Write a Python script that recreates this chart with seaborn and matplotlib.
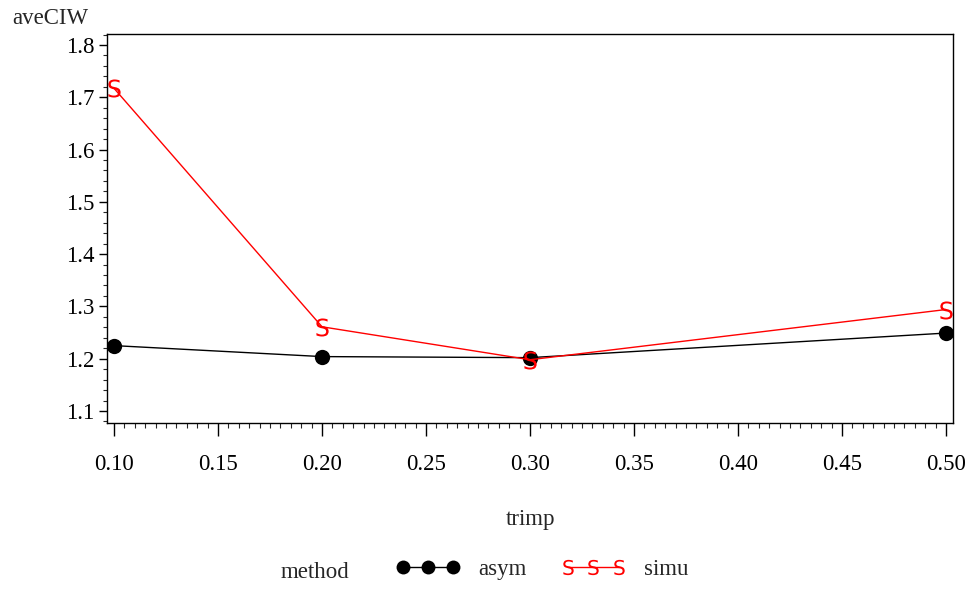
import matplotlib
matplotlib.use("Agg")
import matplotlib.pyplot as plt
from matplotlib.lines import Line2D
from matplotlib.ticker import MultipleLocator, FormatStrFormatter
import seaborn as sns
import pandas as pd

trimp = [0.10, 0.20, 0.30, 0.50]
asym = [1.225, 1.204, 1.202, 1.249]
simu = [1.717, 1.261, 1.198, 1.294]
methods = ["asym", "simu"]

df = pd.DataFrame({
    "trimp": trimp * 2,
    "aveCIW": asym + simu,
    "method": ["asym"] * len(trimp) + ["simu"] * len(trimp),
})

sns.set_theme(style="ticks")
plt.rcParams["font.family"] = ["Liberation Serif", "DejaVu Serif"]
plt.rcParams["mathtext.fontset"] = "custom"
plt.rcParams["mathtext.rm"] = "DejaVu Sans"

FS = 16.5
fig = plt.figure(figsize=(9.74, 5.91), dpi=100)
ax = fig.add_axes([107/974, 1-423/591, (953-107)/974, (423-34)/591])

palette = {"asym": "black", "simu": "red"}
markers = {"asym": "o", "simu": r"$\mathrm{S}$"}
sns.lineplot(data=df, x="trimp", y="aveCIW", hue="method", style="method",
             palette=palette, markers=markers, dashes=False, linewidth=1,
             markersize=11, markeredgewidth=0, ax=ax, legend=False)
for ln in ax.lines:
    if ln.get_color() == "red":
        ln.set_markersize(13)
        ln.set_markeredgewidth(0)

ax.set_xlim(0.0966, 0.5034)
ax.set_ylim(1.077, 1.821)
ax.xaxis.set_major_locator(MultipleLocator(0.05))
ax.xaxis.set_minor_locator(MultipleLocator(0.005))
ax.yaxis.set_major_locator(MultipleLocator(0.1))
ax.yaxis.set_minor_locator(MultipleLocator(0.02))
ax.xaxis.set_major_formatter(FormatStrFormatter("%.2f"))
ax.yaxis.set_major_formatter(FormatStrFormatter("%.1f"))
ax.tick_params(axis="x", which="major", length=9, width=1, pad=13, labelsize=FS, colors="black")
ax.tick_params(axis="x", which="minor", length=3.5, width=0.8)
ax.tick_params(axis="y", which="major", length=6, width=1, pad=3, labelsize=FS, colors="black")
ax.tick_params(axis="y", which="minor", length=3, width=0.8)
for s in ax.spines.values():
    s.set_visible(True)
    s.set_linewidth(1)
    s.set_color("black")

ax.set_xlabel("")
ax.set_ylabel("")
fig.text(12/974, 1-18/591, "aveCIW", fontsize=FS, ha="left", va="center")
fig.text(530/974, 1-520/591, "trimp", fontsize=FS, ha="center", va="center")
fig.text(315/974, 1-572/591, "method", fontsize=FS, ha="center", va="center")

handles = [
    Line2D([], [], color="black", marker="o", markersize=10, linewidth=1, markeredgewidth=0),
    Line2D([], [], color="red", marker=r"$\mathrm{S}$", markersize=11, linewidth=1, markeredgewidth=0),
]
fig.legend(handles, methods, loc="center left", bbox_to_anchor=(396/974, 1-569/591),
           ncol=2, frameon=False, fontsize=FS, numpoints=3, handlelength=2.8,
           handletextpad=0.8, columnspacing=1.5, borderaxespad=0, borderpad=0)

fig.savefig("out.png", dpi=100)
